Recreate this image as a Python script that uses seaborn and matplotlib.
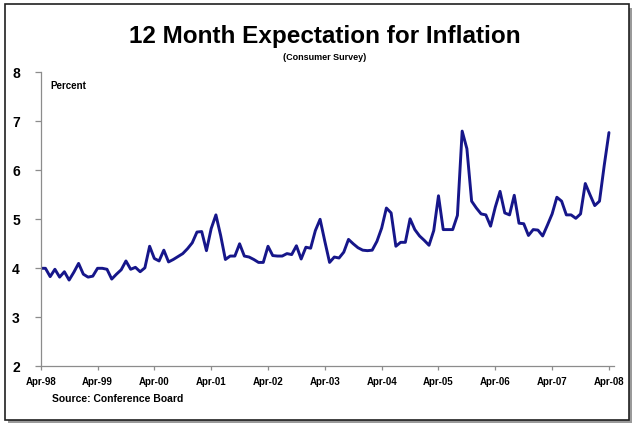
import numpy as np
import pandas as pd
import matplotlib
matplotlib.use("Agg")
import matplotlib.pyplot as plt
import seaborn as sns
from matplotlib.patches import Rectangle

# Monthly data Apr-98 .. Apr-08 (121 months)
expectation = [
    4.00, 4.00, 3.83, 3.98, 3.82, 3.93, 3.76, 3.92, 4.10, 3.88, 3.82, 3.84,
    4.00, 4.00, 3.98, 3.78, 3.88, 3.97, 4.15, 3.98, 4.02, 3.93, 4.01, 4.45,
    4.20, 4.15, 4.37, 4.13, 4.18, 4.24, 4.30, 4.40, 4.52, 4.74, 4.75, 4.36,
    4.81, 5.09, 4.67, 4.18, 4.25, 4.25, 4.50, 4.25, 4.23, 4.18, 4.12, 4.12,
    4.45, 4.26, 4.25, 4.25, 4.30, 4.28, 4.46, 4.19, 4.43, 4.41, 4.77, 5.00,
    4.55, 4.12, 4.23, 4.21, 4.33, 4.59, 4.50, 4.42, 4.37, 4.36, 4.37, 4.55,
    4.82, 5.23, 5.13, 4.45, 4.53, 4.53, 5.01, 4.79, 4.66, 4.57, 4.47, 4.77,
    5.48, 4.79, 4.79, 4.79, 5.08, 6.80, 6.44, 5.37, 5.23, 5.11, 5.09, 4.86,
    5.25, 5.57, 5.13, 5.09, 5.49, 4.92, 4.91, 4.67, 4.79, 4.78, 4.66, 4.88,
    5.11, 5.45, 5.37, 5.09, 5.09, 5.02, 5.11, 5.73, 5.50, 5.28, 5.37, 6.10,
    6.77,
]
month_index = list(range(len(expectation)))
tick_labels = ["Apr-98", "Apr-99", "Apr-00", "Apr-01", "Apr-02", "Apr-03",
               "Apr-04", "Apr-05", "Apr-06", "Apr-07", "Apr-08"]
y_ticks = [2, 3, 4, 5, 6, 7, 8]

df = pd.DataFrame({"month": month_index, "value": expectation})

sns.set_style("white")
plt.rcParams["font.family"] = ["Liberation Sans", "DejaVu Sans"]
plt.rcParams["text.color"] = "black"

W, H = 638, 426
fig = plt.figure(figsize=(W / 100, H / 100), dpi=100)
fig.patch.set_facecolor("white")

ax = fig.add_axes([40.7 / W, 59.7 / H, (613.7 - 40.7) / W, (366.3 - 72.3) / H])
sns.lineplot(data=df, x="month", y="value", ax=ax, color="#16168a",
             linewidth=2.1)

ax.set_xlim(0, 121)
ax.set_ylim(2, 8)
ax.set_xticks(list(range(0, 121, 12)))
ax.set_xticklabels(tick_labels, fontsize=7, fontweight="bold")
ax.set_yticks(y_ticks)
ax.set_yticklabels([str(v) for v in y_ticks], fontsize=10, fontweight="bold")
ax.set_xlabel("")
ax.set_ylabel("")
for side in ["top", "right"]:
    ax.spines[side].set_visible(False)
for side in ["left", "bottom"]:
    ax.spines[side].set_color("#8c8c8c")
    ax.spines[side].set_linewidth(0.9)
ax.tick_params(axis="y", direction="out", length=4, color="#8c8c8c",
               width=0.9, pad=11, left=True, labelcolor="black")
ax.tick_params(axis="x", direction="out", length=3, color="#8c8c8c",
               width=0.9, pad=5, bottom=True, labelcolor="black")
ax.grid(False)

# Titles and annotations
fig.text(325 / W, 1 - 37 / H, "12 Month Expectation for Inflation",
         ha="center", va="center", fontsize=17.5, fontweight="bold",
         color="black")
fig.text(325 / W, 1 - 57 / H, "(Consumer Survey)", ha="center", va="center",
         fontsize=6.5, fontweight="bold", color="black")
fig.text(50 / W, 1 - 86 / H, "Percent", ha="left", va="center",
         fontsize=7, fontweight="bold", color="black")
fig.text(52 / W, 1 - 399 / H, "Source: Conference Board", ha="left",
         va="center", fontsize=7.5, fontweight="bold", color="black")

# Frame with shadow
shadow = Rectangle((8 / W, 1 - 423 / H), (632 - 8) / W, (423 - 8) / H,
                   transform=fig.transFigure, facecolor="#9a9a9a",
                   edgecolor="none", zorder=-2)
frame = Rectangle((5 / W, 1 - 420 / H), (629 - 5) / W, (420 - 4) / H,
                  transform=fig.transFigure, facecolor="white",
                  edgecolor="#202020", linewidth=1.2, zorder=-1)
fig.patches.extend([shadow, frame])

fig.savefig("out.png", dpi=100)
